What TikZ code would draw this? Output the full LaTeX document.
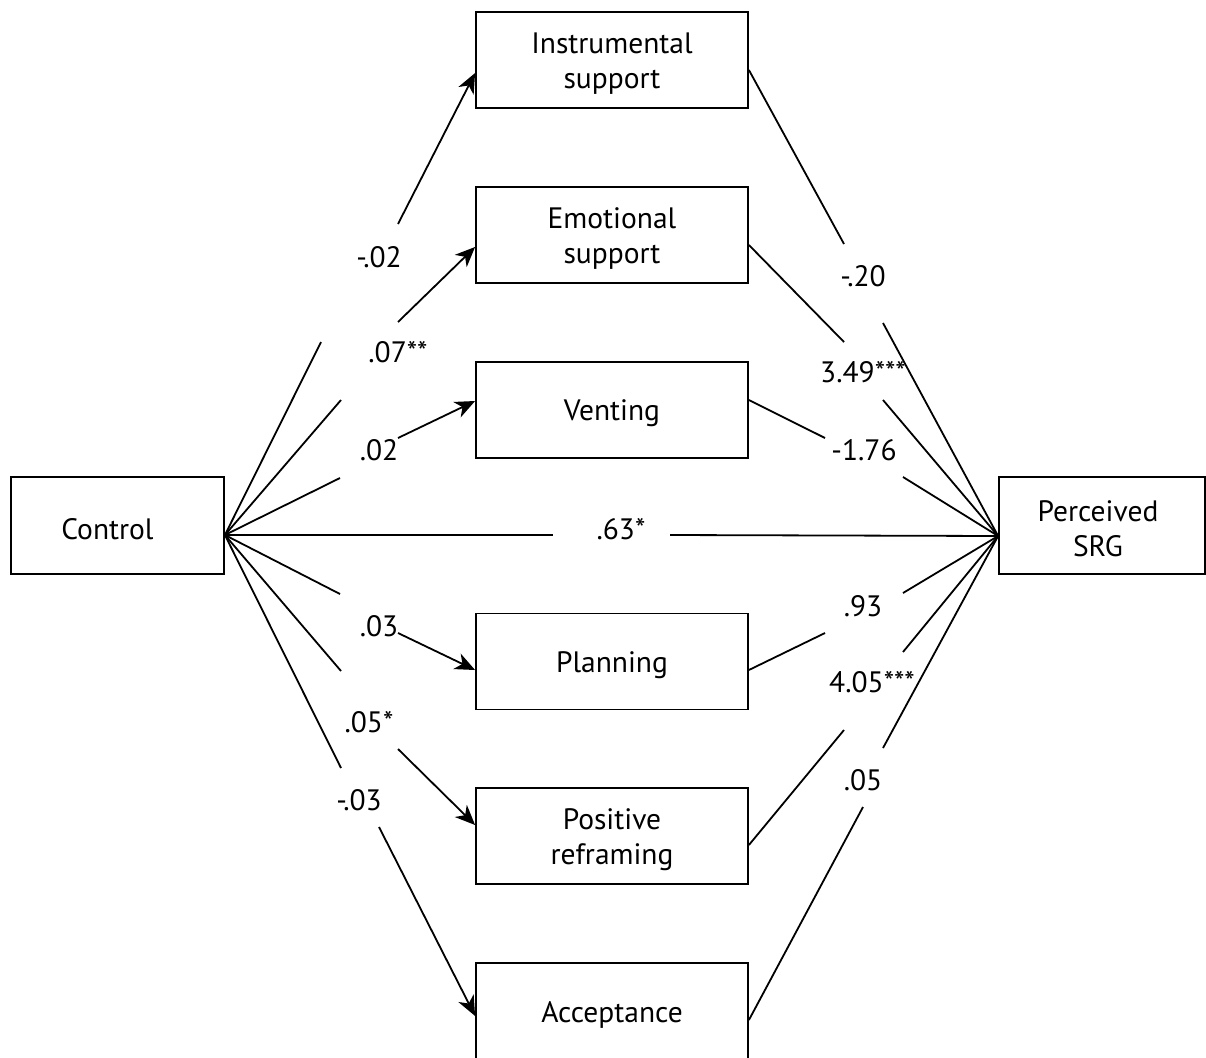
\documentclass[tikz,border=0pt]{standalone}
\usepackage{fontspec}
\setmainfont{PT Sans}
\usetikzlibrary{arrows.meta}
\newcommand\myst{\rule{0pt}{28pt}}
\begin{document}
\begin{tikzpicture}[x=1pt,y=-1pt,
  txt/.style={font=\fontsize{29.5}{35}\selectfont},
  box/.style={txt,draw,line width=1.8pt,rectangle,minimum width=272pt,minimum height=96pt,align=center,inner sep=0pt},
  lbl/.style={txt,inner sep=0pt},
  conn/.style={line width=1.8pt},
  arr/.style={conn,-{Stealth[length=20pt,width=17pt,inset=6pt]}}
]
\useasboundingbox (0,0) rectangle (1206,1057);
% nodes
\node[box,minimum width=213pt,minimum height=97pt] (ctrl) at (117.5,525.5) {\myst\hspace*{-20pt}Control};
\node[box,minimum width=206pt,minimum height=97pt] (srg) at (1102,525.5) {\myst\hspace*{-8pt}Perceived\\\hspace*{-8pt}SRG};
\node[box] (inst) at (612,60) {\myst Instrumental\\support};
\node[box] (emo) at (612,235) {\myst Emotional\\support};
\node[box] (vent) at (612,410) {\myst Venting};
\node[box] (plan) at (612,661.5) {\myst Planning};
\node[box] (pos) at (612,836) {\myst Positive\\reframing};
\node[box] (acc) at (612,1011) {\myst Acceptance};
% anchors
\coordinate (c0) at ([yshift=-9.5pt]ctrl.east);
\coordinate (p0) at ([yshift=-10.5pt]srg.west);
% labels
\node[lbl] (a1) at (379,257) {-.02};
\node[lbl] (a2) at (398,352) {.07**};
\node[lbl] (a3) at (379,450) {.02};
\node[lbl] (a4) at (379,626) {.03};
\node[lbl] (a5) at (369,722) {.05*};
\node[lbl] (a6) at (359,800) {-.03};
\node[lbl] (b1) at (863,276) {-.20};
\node[lbl] (b2) at (863,372) {3.49***};
\node[lbl] (b3) at (864,450) {-1.76};
\node[lbl] (b4) at (863,606) {.93};
\node[lbl] (b5) at (872,682) {4.05***};
\node[lbl] (b6) at (863,780) {.05};
\node[lbl] (dir) at (621,529) {.63*};
% break points
\coordinate (l1a) at (321,342); \coordinate (l1b) at (398,224);
\coordinate (l2a) at (341,400); \coordinate (l2b) at (398,322);
\coordinate (l3a) at (340,478); \coordinate (l3b) at (398,438);
\coordinate (l4a) at (340,594); \coordinate (l4b) at (398,633);
\coordinate (l5a) at (341,671); \coordinate (l5b) at (398,749);
\coordinate (l6a) at (341,768); \coordinate (l6b) at (379,827);
\coordinate (r1a) at (844,244); \coordinate (r1b) at (883,323);
\coordinate (r2a) at (844,342); \coordinate (r2b) at (883,400);
\coordinate (r3a) at (825,438); \coordinate (r3b) at (903,477);
\coordinate (r4a) at (825,633); \coordinate (r4b) at (903,593);
\coordinate (r5a) at (844,730); \coordinate (r5b) at (903,652);
\coordinate (r6a) at (863,807); \coordinate (r6b) at (883,748);
\coordinate (ha) at (553,535); \coordinate (hb) at (670,535);
% left connectors
\draw[conn] (c0) -- (l1a); \draw[arr] (l1b) -- ([yshift=-13pt]inst.west);
\draw[conn] (c0) -- (l2a); \draw[arr] (l2b) -- ([yshift=-12pt]emo.west);
\draw[conn] (c0) -- (l3a); \draw[arr] (l3b) -- ([yshift=9pt]vent.west);
\draw[conn] (c0) -- (l4a); \draw[arr] (l4b) -- ([yshift=-8.5pt]plan.west);
\draw[conn] (c0) -- (l5a); \draw[arr] (l5b) -- ([yshift=11pt]pos.west);
\draw[conn] (c0) -- (l6a); \draw[arr] (l6b) -- ([yshift=-5pt]acc.west);
% right connectors
\draw[conn] ([yshift=-10pt]inst.east) -- (r1a); \draw[conn] (r1b) -- (p0);
\draw[conn] ([yshift=-10pt]emo.east) -- (r2a); \draw[conn] (r2b) -- (p0);
\draw[conn] ([yshift=10pt]vent.east) -- (r3a); \draw[conn] (r3b) -- (p0);
\draw[conn] ([yshift=-8.5pt]plan.east) -- (r4a); \draw[conn] (r4b) -- (p0);
\draw[conn] ([yshift=-9pt]pos.east) -- (r5a); \draw[conn] (r5b) -- (p0);
\draw[conn] ([yshift=-9pt]acc.east) -- (r6a); \draw[conn] (r6b) -- (p0);
% direct path
\draw[conn] (c0) -- (ha); \draw[conn] (hb) -- (p0);
\end{tikzpicture}
\end{document}
